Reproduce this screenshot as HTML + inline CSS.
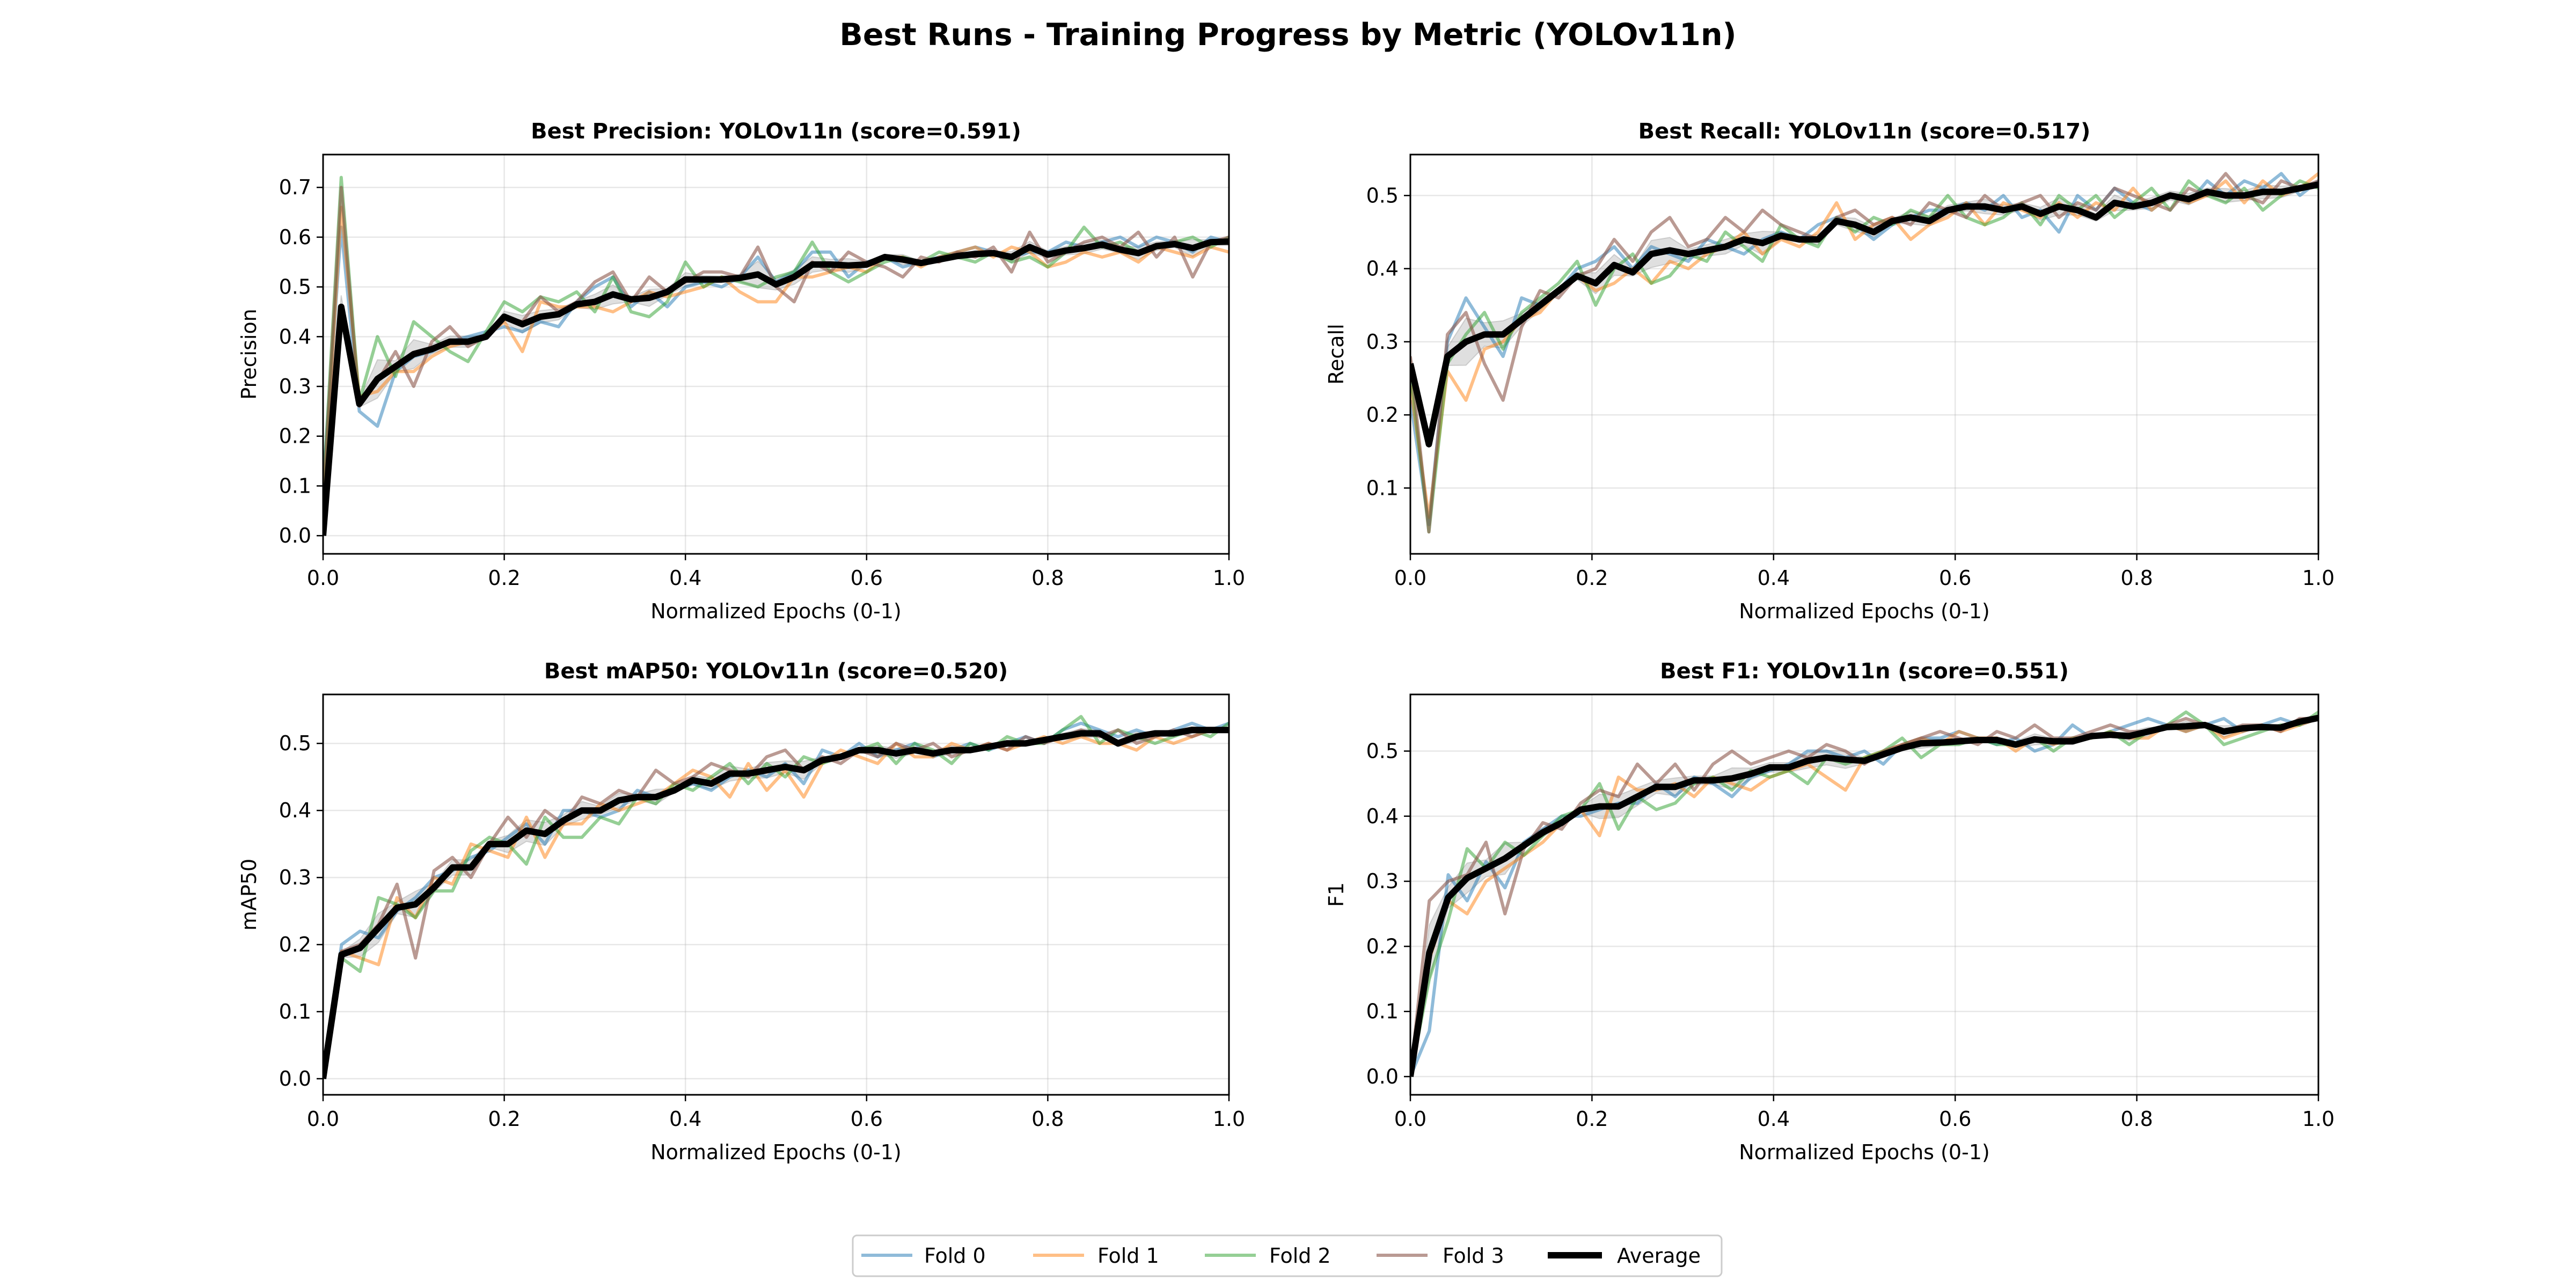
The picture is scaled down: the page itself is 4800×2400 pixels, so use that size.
<!DOCTYPE html>
<html><head><meta charset="utf-8"><style>
html,body{margin:0;padding:0;background:#fff}
svg{display:block}
text{font-family:"DejaVu Sans","Liberation Sans",sans-serif}
</style></head><body>
<svg id="chart" width="4800" height="2400" viewBox="0 0 4800 2400" xmlns="http://www.w3.org/2000/svg">
<rect width="4800" height="2400" fill="#fff"/>
<text x="2400" y="84" text-anchor="middle" font-size="57" font-weight="bold">Best Runs - Training Progress by Metric (YOLOv11n)</text>
<g id="plots"></g>
<g>
<rect x="1589" y="2302" width="1619" height="76" rx="8" fill="#fff" stroke="#ccc" stroke-width="3"/>
<g><line x1="1605" y1="2339" x2="1700" y2="2339" stroke="#1f77b4" stroke-opacity="0.5" stroke-width="6"/><text x="1722" y="2353" font-size="38">Fold 0</text></g>
<g><line x1="1925" y1="2339" x2="2020" y2="2339" stroke="#ff7f0e" stroke-opacity="0.5" stroke-width="6"/><text x="2045" y="2353" font-size="38">Fold 1</text></g>
<g><line x1="2245" y1="2339" x2="2340" y2="2339" stroke="#2ca02c" stroke-opacity="0.5" stroke-width="6"/><text x="2365" y="2353" font-size="38">Fold 2</text></g>
<g><line x1="2565" y1="2339" x2="2660" y2="2339" stroke="#8c564b" stroke-opacity="0.6" stroke-width="6"/><text x="2688" y="2353" font-size="38">Fold 3</text></g>
<g><line x1="2884" y1="2339" x2="2985" y2="2339" stroke="#000" stroke-width="12"/><text x="3013" y="2353" font-size="38">Average</text></g>
</g>
</svg>
<script>
const precisionAvg=[0,0.46,0.265,0.315,0.34,0.365,0.375,0.39,0.39,0.40,0.44,0.425,0.44,0.445,0.465,0.47,0.485,0.475,0.478,0.49,0.515,0.515,0.515,0.518,0.525,0.505,0.52,0.545,0.545,0.543,0.545,0.56,0.555,0.548,0.555,0.562,0.566,0.568,0.56,0.58,0.565,0.573,0.578,0.585,0.575,0.568,0.582,0.586,0.578,0.59,0.591];
const precisionFold0=[0.1,0.62,0.25,0.22,0.33,0.36,0.37,0.39,0.40,0.41,0.42,0.41,0.43,0.42,0.47,0.50,0.52,0.46,0.49,0.46,0.50,0.51,0.50,0.52,0.56,0.51,0.53,0.57,0.57,0.52,0.55,0.56,0.54,0.55,0.56,0.57,0.58,0.57,0.56,0.57,0.57,0.59,0.58,0.59,0.60,0.58,0.60,0.59,0.57,0.60,0.59];
const precisionFold1=[0.05,0.66,0.28,0.29,0.33,0.33,0.36,0.38,0.39,0.40,0.43,0.37,0.47,0.46,0.46,0.46,0.45,0.47,0.49,0.48,0.49,0.50,0.52,0.49,0.47,0.47,0.52,0.52,0.53,0.54,0.53,0.56,0.56,0.54,0.56,0.57,0.58,0.56,0.58,0.57,0.54,0.55,0.57,0.56,0.57,0.55,0.58,0.57,0.56,0.58,0.57];
const precisionFold2=[0.08,0.72,0.27,0.40,0.32,0.43,0.40,0.37,0.35,0.41,0.47,0.45,0.48,0.47,0.49,0.45,0.52,0.45,0.44,0.47,0.55,0.50,0.52,0.51,0.50,0.52,0.53,0.59,0.53,0.51,0.53,0.55,0.56,0.55,0.57,0.56,0.55,0.57,0.55,0.56,0.54,0.57,0.62,0.58,0.59,0.57,0.58,0.59,0.60,0.58,0.60];
const precisionFold3=[0.06,0.70,0.26,0.31,0.37,0.30,0.39,0.42,0.38,0.40,0.44,0.43,0.48,0.45,0.47,0.51,0.53,0.47,0.52,0.49,0.51,0.53,0.53,0.52,0.58,0.50,0.47,0.55,0.53,0.57,0.55,0.54,0.52,0.56,0.55,0.57,0.56,0.58,0.53,0.61,0.55,0.57,0.59,0.60,0.58,0.61,0.56,0.60,0.52,0.59,0.60];

const recallAvg=[0.27,0.16,0.28,0.30,0.31,0.31,0.33,0.35,0.37,0.39,0.38,0.405,0.395,0.42,0.425,0.42,0.425,0.43,0.44,0.435,0.445,0.44,0.44,0.465,0.46,0.45,0.465,0.47,0.465,0.48,0.485,0.485,0.48,0.485,0.475,0.485,0.48,0.47,0.49,0.485,0.49,0.50,0.495,0.505,0.50,0.50,0.505,0.505,0.51,0.515];
const recallFold0=[0.22,0.05,0.30,0.36,0.32,0.28,0.36,0.35,0.37,0.40,0.41,0.43,0.40,0.43,0.42,0.41,0.44,0.43,0.42,0.44,0.45,0.44,0.46,0.47,0.46,0.44,0.46,0.47,0.48,0.48,0.49,0.48,0.50,0.47,0.48,0.45,0.50,0.48,0.51,0.49,0.48,0.50,0.49,0.52,0.50,0.52,0.51,0.53,0.50,0.52];
const recallFold1=[0.24,0.06,0.26,0.22,0.29,0.30,0.33,0.34,0.37,0.39,0.37,0.38,0.40,0.38,0.41,0.40,0.42,0.43,0.45,0.42,0.44,0.43,0.45,0.49,0.44,0.46,0.47,0.44,0.46,0.47,0.49,0.46,0.49,0.48,0.47,0.49,0.47,0.49,0.48,0.51,0.48,0.50,0.49,0.50,0.52,0.49,0.52,0.50,0.51,0.53];
const recallFold2=[0.26,0.04,0.27,0.31,0.34,0.29,0.34,0.36,0.38,0.41,0.35,0.40,0.42,0.38,0.39,0.42,0.41,0.45,0.43,0.41,0.46,0.44,0.43,0.47,0.45,0.47,0.46,0.48,0.47,0.50,0.47,0.46,0.47,0.49,0.46,0.50,0.48,0.50,0.47,0.49,0.51,0.48,0.52,0.50,0.49,0.51,0.48,0.50,0.52,0.51];
const recallFold3=[0.28,0.04,0.31,0.34,0.27,0.22,0.32,0.37,0.36,0.39,0.40,0.44,0.41,0.45,0.47,0.43,0.44,0.47,0.45,0.48,0.46,0.45,0.44,0.47,0.48,0.46,0.47,0.46,0.49,0.48,0.47,0.50,0.48,0.49,0.50,0.47,0.49,0.48,0.51,0.50,0.49,0.48,0.51,0.50,0.53,0.50,0.49,0.52,0.51,0.52];

const mapAvg=[0.0,0.185,0.195,0.225,0.255,0.26,0.285,0.315,0.315,0.35,0.35,0.37,0.365,0.385,0.40,0.40,0.415,0.42,0.42,0.43,0.445,0.44,0.455,0.455,0.46,0.465,0.46,0.475,0.48,0.49,0.49,0.485,0.49,0.485,0.49,0.49,0.495,0.50,0.50,0.505,0.51,0.515,0.515,0.50,0.51,0.515,0.515,0.52,0.52,0.52];
const mapFold0=[0.0,0.20,0.22,0.21,0.25,0.27,0.30,0.31,0.33,0.34,0.36,0.38,0.35,0.40,0.40,0.39,0.40,0.43,0.42,0.43,0.44,0.43,0.45,0.46,0.45,0.47,0.44,0.49,0.48,0.50,0.48,0.49,0.50,0.48,0.49,0.50,0.49,0.50,0.51,0.50,0.52,0.53,0.52,0.51,0.52,0.51,0.52,0.53,0.52,0.53];
const mapFold1=[0.0,0.19,0.18,0.17,0.27,0.24,0.30,0.29,0.35,0.34,0.33,0.39,0.33,0.38,0.38,0.41,0.40,0.41,0.42,0.44,0.46,0.45,0.42,0.47,0.43,0.46,0.42,0.47,0.49,0.48,0.47,0.50,0.48,0.48,0.50,0.49,0.50,0.49,0.50,0.51,0.50,0.51,0.50,0.50,0.49,0.51,0.50,0.51,0.52,0.52];
const mapFold2=[0.0,0.18,0.16,0.27,0.26,0.24,0.28,0.28,0.34,0.36,0.35,0.32,0.39,0.36,0.36,0.39,0.38,0.42,0.41,0.44,0.43,0.45,0.47,0.44,0.47,0.45,0.48,0.47,0.48,0.49,0.50,0.47,0.50,0.49,0.47,0.50,0.49,0.51,0.50,0.50,0.52,0.54,0.50,0.52,0.51,0.50,0.51,0.52,0.51,0.53];
const mapFold3=[0.0,0.19,0.20,0.23,0.29,0.18,0.31,0.33,0.30,0.35,0.39,0.36,0.40,0.38,0.42,0.41,0.43,0.42,0.46,0.44,0.45,0.47,0.46,0.45,0.48,0.49,0.46,0.48,0.47,0.49,0.48,0.50,0.49,0.50,0.48,0.49,0.50,0.49,0.51,0.50,0.51,0.52,0.51,0.52,0.50,0.51,0.52,0.51,0.52,0.52];

const f1Avg=[0.0,0.19,0.275,0.305,0.32,0.335,0.355,0.375,0.39,0.41,0.415,0.415,0.43,0.445,0.445,0.455,0.455,0.458,0.465,0.475,0.475,0.485,0.49,0.487,0.485,0.495,0.505,0.512,0.513,0.515,0.517,0.517,0.51,0.518,0.515,0.515,0.523,0.525,0.523,0.53,0.537,0.538,0.54,0.53,0.535,0.537,0.536,0.545,0.551];
const f1Fold0=[0.0,0.07,0.31,0.27,0.33,0.29,0.36,0.38,0.40,0.40,0.41,0.42,0.42,0.45,0.43,0.46,0.45,0.43,0.46,0.47,0.48,0.50,0.50,0.49,0.50,0.48,0.51,0.52,0.52,0.53,0.52,0.51,0.52,0.50,0.51,0.54,0.52,0.53,0.54,0.55,0.54,0.53,0.54,0.55,0.53,0.54,0.55,0.54,0.55];
const f1Fold1=[0.0,0.18,0.27,0.25,0.30,0.32,0.34,0.36,0.39,0.41,0.37,0.46,0.44,0.44,0.45,0.43,0.46,0.45,0.44,0.46,0.47,0.48,0.46,0.44,0.49,0.50,0.51,0.52,0.51,0.53,0.52,0.52,0.50,0.52,0.51,0.52,0.52,0.53,0.52,0.52,0.54,0.53,0.54,0.52,0.53,0.54,0.53,0.54,0.55];
const f1Fold2=[0.0,0.15,0.24,0.35,0.32,0.36,0.34,0.37,0.40,0.41,0.45,0.38,0.43,0.41,0.42,0.45,0.46,0.44,0.47,0.46,0.47,0.45,0.49,0.48,0.49,0.50,0.52,0.49,0.51,0.51,0.52,0.51,0.51,0.52,0.50,0.52,0.52,0.53,0.51,0.53,0.54,0.56,0.54,0.51,0.52,0.53,0.54,0.54,0.56];
const f1Fold3=[0.0,0.27,0.30,0.31,0.36,0.25,0.35,0.39,0.38,0.42,0.44,0.43,0.48,0.45,0.48,0.44,0.48,0.50,0.48,0.49,0.50,0.49,0.51,0.50,0.48,0.50,0.51,0.52,0.53,0.52,0.51,0.53,0.52,0.54,0.52,0.52,0.53,0.54,0.53,0.53,0.54,0.55,0.54,0.53,0.54,0.54,0.53,0.55,0.55];

const xTicks=[0,0.2,0.4,0.6,0.8,1.0];
const precisionTicks=[0,0.1,0.2,0.3,0.4,0.5,0.6,0.7];
const recallTicks=[0.1,0.2,0.3,0.4,0.5];
const mapTicks=[0,0.1,0.2,0.3,0.4,0.5];
const f1Ticks=[0,0.1,0.2,0.3,0.4,0.5];
const panelTitles=["Best Precision: YOLOv11n (score=0.591)","Best Recall: YOLOv11n (score=0.517)","Best mAP50: YOLOv11n (score=0.520)","Best F1: YOLOv11n (score=0.551)"];
const panelYLabels=["Precision","Recall","mAP50","F1"];

const NS="http://www.w3.org/2000/svg";
const root=document.getElementById('plots');
function el(tag,attrs,parent){const e=document.createElementNS(NS,tag);for(const k in attrs)e.setAttribute(k,attrs[k]);parent.appendChild(e);return e;}
const foldColors=["#1f77b4","#ff7f0e","#2ca02c","#8c564b"];
const panels=[
 {L:602,R:2290,T:288,B:1032,ymin:-0.0365,ymax:0.766,ticks:precisionTicks,avg:precisionAvg,folds:[precisionFold0,precisionFold1,precisionFold2,precisionFold3],name:'precision'},
 {L:2628,R:4320,T:288,B:1032,ymin:0.010,ymax:0.556,ticks:recallTicks,avg:recallAvg,folds:[recallFold0,recallFold1,recallFold2,recallFold3],name:'recall'},
 {L:602,R:2290,T:1294,B:2040,ymin:-0.024,ymax:0.573,ticks:mapTicks,avg:mapAvg,folds:[mapFold0,mapFold1,mapFold2,mapFold3],name:'map50'},
 {L:2628,R:4320,T:1294,B:2040,ymin:-0.028,ymax:0.587,ticks:f1Ticks,avg:f1Avg,folds:[f1Fold0,f1Fold1,f1Fold2,f1Fold3],name:'f1'}
];
panels.forEach((p,pi)=>{
 const g=el('g',{},root);
 
 
 const xs=v=>p.L+v*(p.R-p.L);
 const ys=v=>p.B-(v-p.ymin)/(p.ymax-p.ymin)*(p.B-p.T);
 const clipId='clip'+pi;
 const cp=el('clipPath',{id:clipId},g);el('rect',{x:p.L,y:p.T,width:p.R-p.L,height:p.B-p.T},cp);
 // grid
 xTicks.forEach(t=>{const l=el('line',{x1:xs(t),x2:xs(t),y1:p.T,y2:p.B,stroke:'#b0b0b0','stroke-opacity':0.3,'stroke-width':2.5},g);
  });
 p.ticks.forEach(t=>{const l=el('line',{x1:p.L,x2:p.R,y1:ys(t),y2:ys(t),stroke:'#b0b0b0','stroke-opacity':0.3,'stroke-width':2.5},g);
  });
 const plot=el('g',{'clip-path':'url(#'+clipId+')'},g);
 // std band
 const n=p.avg.length;const up=[],lo=[];
 for(let i=0;i<n;i++){const vals=p.folds.map(f=>f[Math.min(f.length-1,Math.round(i*(f.length-1)/(n-1)))]);
  const m=vals.reduce((a,b)=>a+b,0)/vals.length;const sd=Math.sqrt(vals.reduce((a,b)=>a+(b-m)*(b-m),0)/vals.length)*0.6;
  up.push([xs(i/(n-1)),ys(p.avg[i]+sd)]);lo.push([xs(i/(n-1)),ys(p.avg[i]-sd)]);}
 const band=el('path',{d:'M'+up.map(q=>q.join(',')).join('L')+'L'+lo.reverse().map(q=>q.join(',')).join('L')+'Z',fill:'#808080','fill-opacity':0.25,stroke:'#808080','stroke-opacity':0.3,'stroke-width':2},plot);
 
 p.folds.forEach((f,fi)=>{
  const d='M'+f.map((v,i)=>xs(i/(f.length-1)).toFixed(1)+','+ys(v).toFixed(1)).join('L');
  const pl=el('path',{d:d,fill:'none',stroke:foldColors[fi],'stroke-opacity':fi==3?0.6:0.5,'stroke-width':6,'stroke-linejoin':'round'},plot);
  
  
 });
 const da='M'+p.avg.map((v,i)=>xs(i/(n-1)).toFixed(1)+','+ys(v).toFixed(1)).join('L');
 const av=el('path',{d:da,fill:'none',stroke:'#000','stroke-width':12,'stroke-linejoin':'round'},plot);
 
 
 el('rect',{x:p.L,y:p.T,width:p.R-p.L,height:p.B-p.T,fill:'none',stroke:'#000','stroke-width':3},g);
 xTicks.forEach(t=>{el('line',{x1:xs(t),x2:xs(t),y1:p.B,y2:p.B+12,stroke:'#000','stroke-width':2.5},g);
  const tx=el('text',{x:xs(t),y:p.B+58,'text-anchor':'middle','font-size':38},g);tx.textContent=t.toFixed(1);
  });
 p.ticks.forEach(t=>{el('line',{x1:p.L-12,x2:p.L,y1:ys(t),y2:ys(t),stroke:'#000','stroke-width':2.5},g);
  const tx=el('text',{x:p.L-22,y:ys(t)+13,'text-anchor':'end','font-size':38},g);tx.textContent=t.toFixed(1);
  });
 const xl=el('text',{x:(p.L+p.R)/2,y:p.B+120,'text-anchor':'middle','font-size':38},g);xl.textContent='Normalized Epochs (0-1)';
 
 const yc=(p.T+p.B)/2,yx=p.L-125;
 const yl=el('text',{x:yx,y:yc,'text-anchor':'middle','font-size':38,transform:'rotate(-90 '+yx+' '+yc+')'},g);yl.textContent=panelYLabels[pi];
 
 const tt=el('text',{x:(p.L+p.R)/2,y:p.T-30,'text-anchor':'middle','font-size':40,'font-weight':'bold'},g);tt.textContent=panelTitles[pi];
 
});
</script>
</body></html>
